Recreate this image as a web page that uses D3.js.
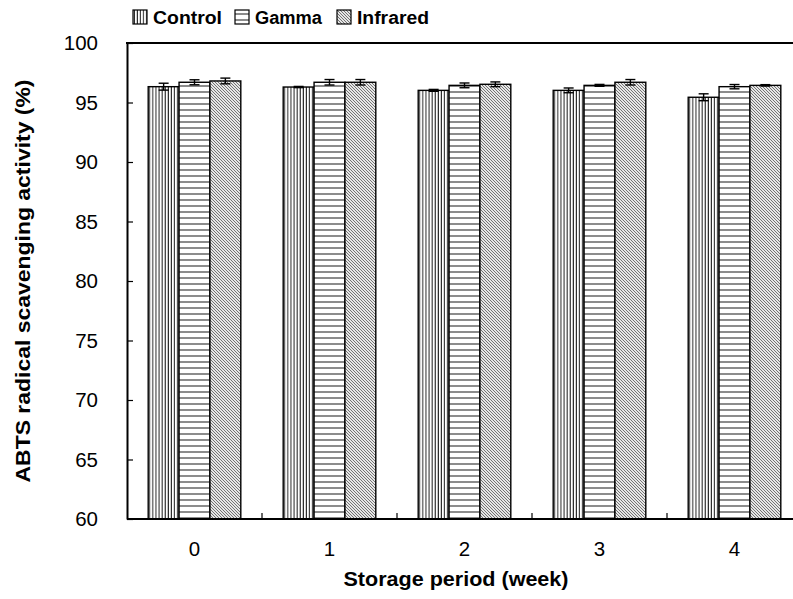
<!DOCTYPE html>
<html>
<head>
<meta charset="utf-8">
<script src="https://cdn.jsdelivr.net/npm/d3@7"></script>
<style>
  html, body { margin: 0; padding: 0; background: #fff; }
  svg { display: block; }
  text { font-family: "Liberation Sans", Arial, Helvetica, sans-serif; fill: #000; }
</style>
</head>
<body>
<svg id="chart" width="793" height="599"></svg>
<script>
// Storage weeks on the x axis
const weeks = ["0", "1", "2", "3", "4"];
const seriesNames = ["Control", "Gamma", "Infrared"];

// ABTS radical scavenging activity (%) per treatment, weeks 0-4
const control  = [96.33, 96.30, 96.02, 96.02, 95.44];
const gamma    = [96.70, 96.70, 96.44, 96.44, 96.33];
const infrared = [96.81, 96.70, 96.53, 96.70, 96.44];

// Standard deviations
const controlErr  = [0.29, 0.05, 0.08, 0.20, 0.29];
const gammaErr    = [0.21, 0.23, 0.20, 0.08, 0.18];
const infraredErr = [0.24, 0.23, 0.20, 0.23, 0.06];

const yTicks = [60, 65, 70, 75, 80, 85, 90, 95, 100];

const values = [control, gamma, infrared];
const errors = [controlErr, gammaErr, infraredErr];

const svg = d3.select("#chart");
const margin = { left: 127, top: 43, bottom: 519 };
const plotRight = 802;

const x0 = d3.scaleBand().domain(weeks).range([margin.left, plotRight]).padding(0);
const bw = x0.bandwidth();
const gap = 21.2;
const x1 = d3.scaleBand().domain(seriesNames).range([gap, bw - gap]).padding(0);
const y = d3.scaleLinear().domain([60, 100]).range([margin.bottom, margin.top]);

// Fill patterns
const defs = svg.append("defs");
const pVert = defs.append("pattern").attr("id", "pat-control")
  .attr("patternUnits", "userSpaceOnUse").attr("width", 3.1).attr("height", 10);
pVert.append("rect").attr("width", 3.1).attr("height", 10).attr("fill", "#fff");
pVert.append("line").attr("x1", 1).attr("x2", 1).attr("y1", 0).attr("y2", 10)
  .attr("stroke", "#000").attr("stroke-width", 0.9);

const pHor = defs.append("pattern").attr("id", "pat-gamma")
  .attr("patternUnits", "userSpaceOnUse").attr("width", 10).attr("height", 6);
pHor.append("rect").attr("width", 10).attr("height", 6).attr("fill", "#fff");
pHor.append("line").attr("x1", 0).attr("x2", 10).attr("y1", 2).attr("y2", 2)
  .attr("stroke", "#6e6e6e").attr("stroke-width", 1.6);

const pDiag = defs.append("pattern").attr("id", "pat-infrared")
  .attr("patternUnits", "userSpaceOnUse").attr("width", 3).attr("height", 3);
pDiag.append("rect").attr("width", 3).attr("height", 3).attr("fill", "#e6e6e6");
pDiag.append("path").attr("d", "M-1,-1 L4,4 M-1,2 L1,4 M2,-1 L4,1")
  .attr("stroke", "#555").attr("stroke-width", 0.8);

const fills = ["url(#pat-control)", "url(#pat-gamma)", "url(#pat-infrared)"];

// Bars
const groups = svg.append("g").selectAll("g")
  .data(weeks).join("g")
  .attr("transform", d => `translate(${x0(d)},0)`);

seriesNames.forEach((s, si) => {
  groups.append("rect")
    .attr("x", x1(s))
    .attr("width", x1.bandwidth())
    .attr("y", (d, i) => y(values[si][i]))
    .attr("height", (d, i) => y(60) - y(values[si][i]))
    .attr("fill", fills[si])
    .attr("stroke", "#000")
    .attr("stroke-width", 1.4);
});

// Error bars
seriesNames.forEach((s, si) => {
  const cx = x1(s) + x1.bandwidth() / 2;
  const eb = groups.append("g").attr("stroke", "#000").attr("stroke-width", 1.4);
  eb.append("line")
    .attr("x1", cx).attr("x2", cx)
    .attr("y1", (d, i) => y(values[si][i] + errors[si][i]))
    .attr("y2", (d, i) => y(values[si][i] - errors[si][i]));
  eb.append("line")
    .attr("x1", cx - 5).attr("x2", cx + 5)
    .attr("y1", (d, i) => y(values[si][i] + errors[si][i]))
    .attr("y2", (d, i) => y(values[si][i] + errors[si][i]));
  eb.append("line")
    .attr("x1", cx - 5).attr("x2", cx + 5)
    .attr("y1", (d, i) => y(values[si][i] - errors[si][i]))
    .attr("y2", (d, i) => y(values[si][i] - errors[si][i]));
});

// Y axis (ticks point inward)
const yAxis = svg.append("g")
  .attr("transform", `translate(${margin.left},0)`)
  .call(d3.axisLeft(y).tickValues(yTicks).tickSize(-6).tickPadding(29).tickSizeOuter(0));
yAxis.select(".domain").attr("stroke-width", 2);
yAxis.selectAll(".tick line").attr("stroke-width", 1.2);
yAxis.selectAll(".tick text")
  .attr("font-size", "20.5px")
  .attr("font-family", "Liberation Sans, Arial, sans-serif");

// X axis: ticks at group boundaries, pointing up
const xAxis = svg.append("g")
  .attr("transform", `translate(0,${margin.bottom})`);
xAxis.append("line")
  .attr("x1", margin.left).attr("x2", plotRight)
  .attr("stroke", "#000").attr("stroke-width", 2);
xAxis.selectAll("line.tick")
  .data(weeks.slice(1)).join("line")
  .attr("class", "tick")
  .attr("x1", d => x0(d)).attr("x2", d => x0(d))
  .attr("y1", 0).attr("y2", -6)
  .attr("stroke", "#000").attr("stroke-width", 1.2);
xAxis.selectAll("text")
  .data(weeks).join("text")
  .attr("x", d => x0(d) + bw / 2)
  .attr("y", 37)
  .attr("text-anchor", "middle")
  .attr("font-size", "20.5px")
  .text(d => d);

// Top frame line
svg.append("line")
  .attr("x1", margin.left - 1).attr("x2", plotRight)
  .attr("y1", margin.top).attr("y2", margin.top)
  .attr("stroke", "#000").attr("stroke-width", 2);

// Axis titles
svg.append("text")
  .attr("x", 456).attr("y", 586)
  .attr("text-anchor", "middle")
  .attr("font-size", "20px").attr("font-weight", "bold")
  .attr("textLength", 225).attr("lengthAdjust", "spacingAndGlyphs")
  .text("Storage period (week)");

svg.append("text")
  .attr("transform", `translate(30,${(margin.top + margin.bottom) / 2}) rotate(-90)`)
  .attr("text-anchor", "middle")
  .attr("font-size", "20px").attr("font-weight", "bold")
  .attr("textLength", 403).attr("lengthAdjust", "spacingAndGlyphs")
  .text("ABTS radical scavenging activity (%)");

// Legend
const legendX = [133, 235, 337];
const legendW = [69, 67, 72];
const legend = svg.append("g");
seriesNames.forEach((s, si) => {
  legend.append("rect")
    .attr("x", legendX[si]).attr("y", 10)
    .attr("width", 14).attr("height", 14)
    .attr("fill", fills[si]).attr("stroke", "#000").attr("stroke-width", 1.2);
  legend.append("text")
    .attr("x", legendX[si] + 20).attr("y", 23.5)
    .attr("font-size", "18px").attr("font-weight", "bold")
    .attr("textLength", legendW[si]).attr("lengthAdjust", "spacingAndGlyphs")
    .text(s);
});
</script>
</body>
</html>
